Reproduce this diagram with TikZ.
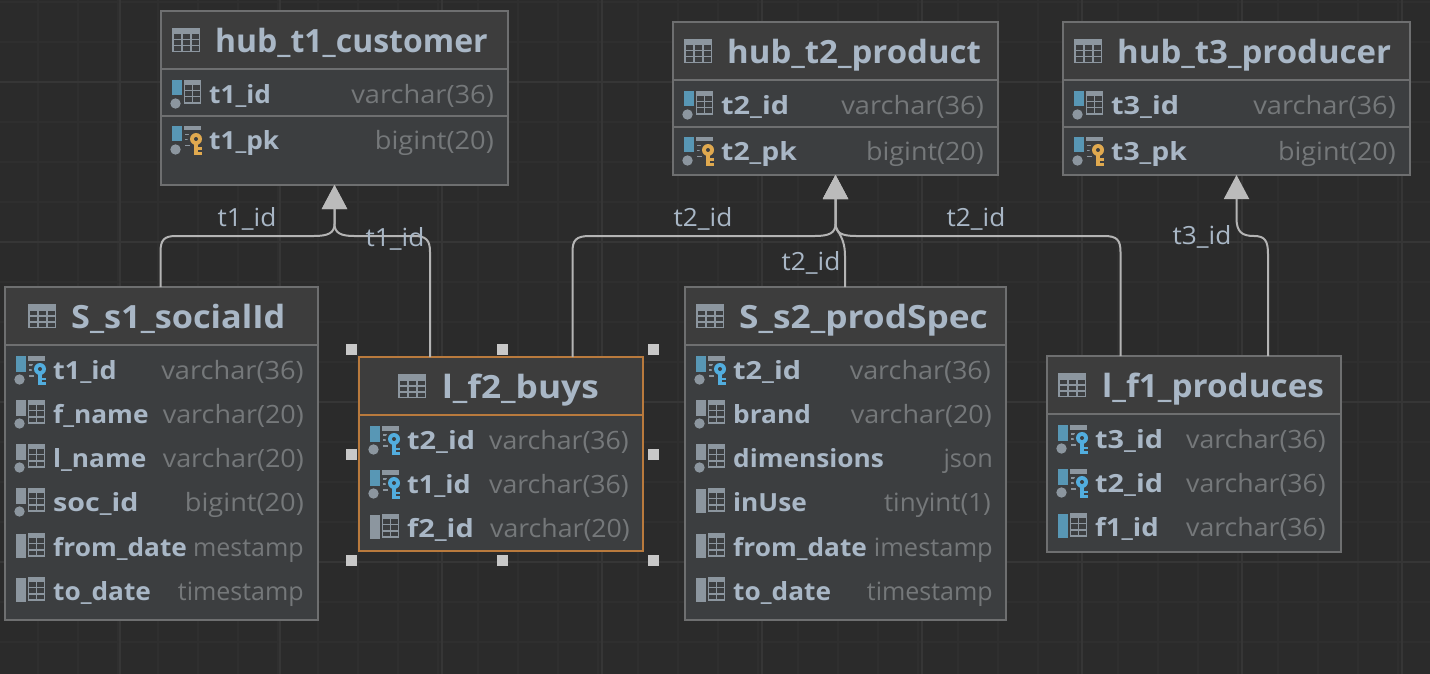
\documentclass[tikz,border=0pt]{standalone}
\usepackage{graphicx}
\usepackage{fontspec}
\setmainfont{Open Sans}
\newfontfamily\typefont[FakeStretch=1.08]{Open Sans}
\newfontfamily\fieldfont[FakeStretch=1.05]{Open Sans}
\newfontfamily\titlefont[FakeStretch=1.03]{Open Sans}
\newfontfamily\labelfont[FakeStretch=1.05]{Open Sans}
\usetikzlibrary{arrows.meta,calc}
\definecolor{bgc}{HTML}{2B2B2B}
\definecolor{gridminor}{HTML}{2F2F2F}
\definecolor{gridmajor}{HTML}{363636}
\definecolor{tfill}{HTML}{3C3E40}
\definecolor{thead}{HTML}{3D3D3D}
\definecolor{tborder}{HTML}{6E6F70}
\definecolor{selb}{HTML}{B97A3D}
\definecolor{txtc}{HTML}{A9B7C6}
\definecolor{typec}{HTML}{75787A}
\definecolor{relc}{HTML}{B4B4B4}
\definecolor{tipc}{HTML}{BBBBBB}
\definecolor{icong}{HTML}{8C969F}
\definecolor{iconb}{HTML}{5897B5}
\definecolor{kgold}{HTML}{E0A94F}
\definecolor{kblue}{HTML}{52ADDE}
\definecolor{handc}{HTML}{C8C8C8}
\tikzset{
  tbl/.style={draw=tborder,fill=tfill,line width=2pt,inner sep=0pt,outer sep=0pt},
  seltbl/.style={tbl,draw=selb},
  sepline/.style={draw=tborder,line width=2pt},
  selsep/.style={draw=selb,line width=2pt},
  titletext/.style={anchor=base west,inner sep=0pt,text=txtc,font=\titlefont\fontsize{32}{32}\selectfont\bfseries},
  fieldtext/.style={anchor=base west,inner sep=0pt,text=txtc,font=\fieldfont\fontsize{25}{25}\selectfont\bfseries},
  typetext/.style={anchor=base east,inner sep=0pt,text=typec,font=\typefont\fontsize{25.2}{25.2}\selectfont},
  rellabel/.style={inner sep=0pt,text=txtc,font=\labelfont\fontsize{25}{25}\selectfont},
  rel/.style={draw=relc,line width=2pt,-{Triangle[width=25pt,length=24pt,fill=tipc,color=tipc]}},
  handle/.style={fill=handc,draw=none,minimum width=11pt,minimum height=11pt,inner sep=0pt,outer sep=0pt},
  gminor/.style={draw=gridminor,line width=1.5pt},
  gmajor/.style={draw=gridmajor,line width=2pt},
}
\newcommand{\xs}[2]{\scalebox{#1}[1]{#2}}
\newcount\nn
\newcommand{\tablebox}[7][tbl]{% style, name, x1,y1,x2,y2, sepy
  \pgfmathsetmacro{\cxx}{(#3+#5)/2}\pgfmathsetmacro{\cyy}{(#4+#6)/2}
  \pgfmathsetmacro{\www}{#5-#3}\pgfmathsetmacro{\hhh}{#6-#4}
  \node[#1,minimum width=\www pt,minimum height=\hhh pt] (#2) at (\cxx,\cyy) {};
  \fill[thead] (#3+1,#4+1) rectangle (#5-1,#7);
}
\newcommand{\headicon}[2]{% x,y top left
  \begin{scope}[shift={(#1,#2)}]
  \fill[icong] (0,0) rectangle (28,24);
  \foreach \cx in {1.5,10.5,19.5}{\foreach \cy in {6.5,12.5,18.5}{
    \fill[tfill] (\cx,\cy) rectangle ++(7.5,4.5);}}
  \end{scope}}
\newcommand{\colicon}[5]{% x, cy, barcolor, circle(0/1), key (none or colour)
  \begin{scope}[shift={(#1,#2)}]
  \ifnum#4=1
    \fill[tfill] (3.5,9.5) circle (7.2);
    \fill[icong] (3.5,9.5) circle (5.2);
    \fill[#3] (0,-14) rectangle (10,1.5);
  \else
    \fill[#3] (0,-13) rectangle (10,11);
  \fi
  \def\keyarg{#5}\def\nonearg{none}
  \ifx\keyarg\nonearg
    \fill[icong] (12,-14) rectangle (29,10);
    \foreach \ccx in {13,21}{\foreach \ccy in {-9,-3,3.5}{
      \fill[tfill] (\ccx,\ccy) rectangle ++(6.8,4.8);}}
  \else
    \fill[icong] (12,-14) rectangle (29,-9.5);
    \fill[icong] (13,-6) rectangle (18,-4.5);
    \fill[icong] (13,-1) rectangle (18,0.5);
    \fill[icong] (13,5) rectangle (18,6.5);
    \fill[tfill] (23.5,-1) circle (8);
    \fill[tfill] (20.5,0) rectangle (31,16);
    \fill[#5] (24,-1) circle (6);
    \fill[tfill] (24,-1) circle (2);
    \fill[#5] (22,3) rectangle (25.6,15);
    \fill[#5] (25.6,7.5) rectangle (29.5,10);
    \fill[#5] (25.6,12) rectangle (29.5,15);
  \fi
  \end{scope}}
\newcommand{\rowf}[9]{% iconx,textx,rightx,cy,bar,circle,key,field,type
  \colicon{#1}{#4}{#5}{#6}{#7}
  \global\advance\nn by 1
  \node[fieldtext] (f\the\nn) at (#2,#4+9.5) {#8};
  \node[typetext] (y\the\nn) at (#3,#4+9.5) {#9};
}
\newcommand{\titlef}[4]{% iconx,textx,top,text
  \headicon{#1}{#3+17}
  \global\advance\nn by 1
  \node[titletext] (h\the\nn) at (#2,#3+41.5) {#4};
}
\begin{document}
\begin{tikzpicture}[x=1pt,y=-1pt]
\fill[bgc] (0,0) rectangle (1430,674);
\useasboundingbox (0,0) rectangle (1430,674);
\foreach \g in {-2,38,...,1430}{\draw[gminor] (\g,0) -- (\g,674);}
\foreach \g in {2,42,...,674}{\draw[gminor] (0,\g) -- (1430,\g);}
\foreach \g in {120,280,442,602,762,922,1082,1242,1402}{\draw[gmajor] (\g,0) -- (\g,674);}
\foreach \g in {82,242,402,562}{\draw[gmajor] (0,\g) -- (1430,\g);}

% hub_t1_customer
\tablebox{hubone}{161}{11}{508}{185}{69}
\draw[sepline] (162,69) -- (507,69);
\draw[sepline] (162,116) -- (507,116);
\titlef{172}{215}{11}{\xs{0.97}{hub\_t1\_customer}}
\rowf{172}{209}{494}{94}{iconb}{1}{none}{t1\_id}{varchar(36)}
\rowf{172}{209}{494}{140}{iconb}{1}{kgold}{t1\_pk}{bigint(20)}

% hub_t2_product
\tablebox{hubtwo}{673}{22}{998}{175}{80}
\draw[sepline] (674,80) -- (997,80);
\draw[sepline] (674,127) -- (997,127);
\titlef{684}{727}{22}{hub\_t2\_product}
\rowf{684}{721}{984}{105}{iconb}{1}{none}{\xs{1.1}{t2\_id}}{varchar(36)}
\rowf{684}{721}{984}{151}{iconb}{1}{kgold}{\xs{1.08}{t2\_pk}}{\xs{0.99}{bigint(20)}}

% hub_t3_producer
\tablebox{hubthree}{1063}{22}{1410}{175}{80}
\draw[sepline] (1064,80) -- (1409,80);
\draw[sepline] (1064,127) -- (1409,127);
\titlef{1074}{1117}{22}{hub\_t3\_producer}
\rowf{1074}{1111}{1396}{105}{iconb}{1}{none}{\xs{1.1}{t3\_id}}{varchar(36)}
\rowf{1074}{1111}{1396}{151}{iconb}{1}{kgold}{\xs{1.08}{t3\_pk}}{\xs{0.99}{bigint(20)}}

% S_s1_socialId
\tablebox{sone}{5}{287}{318}{620}{345}
\draw[sepline] (6,345) -- (317,345);
\titlef{28}{71}{287}{\xs{1.04}{S\_s1\_socialId}}
\rowf{16}{53}{304}{370}{iconb}{1}{kblue}{\xs{1.03}{t1\_id}}{varchar(36)}
\rowf{16}{53}{304}{414}{icong}{1}{none}{f\_name}{\xs{0.99}{varchar(20)}}
\rowf{16}{53}{304}{458}{icong}{1}{none}{l\_name}{\xs{0.99}{varchar(20)}}
\rowf{16}{53}{304}{502}{icong}{1}{none}{\xs{1.09}{soc\_id}}{bigint(20)}
\rowf{16}{53}{304}{547}{icong}{0}{none}{from\_date}{\xs{0.92}{mestamp}}
\rowf{16}{53}{304}{591}{icong}{0}{none}{to\_date}{\xs{0.92}{timestamp}}

% l_f2_buys
\tablebox[seltbl]{buys}{359}{357}{643}{551}{415}
\draw[selsep] (360,415) -- (642,415);
\titlef{398}{442}{357}{\xs{1.07}{l\_f2\_buys}}
\rowf{370}{407}{629}{440}{iconb}{1}{kblue}{\xs{1.1}{t2\_id}}{\xs{0.98}{varchar(36)}}
\rowf{370}{407}{629}{484}{iconb}{1}{kblue}{\xs{1.03}{t1\_id}}{\xs{0.98}{varchar(36)}}
\rowf{370}{407}{630}{528}{icong}{0}{none}{\xs{1.1}{f2\_id}}{\xs{0.98}{varchar(20)}}

% S_s2_prodSpec
\tablebox{stwo}{685}{287}{1006}{620}{345}
\draw[sepline] (686,345) -- (1005,345);
\titlef{696}{739}{287}{\xs{1.07}{S\_s2\_prodSpec}}
\rowf{696}{733}{991}{370}{iconb}{1}{kblue}{\xs{1.1}{t2\_id}}{\xs{0.99}{varchar(36)}}
\rowf{696}{733}{992}{414}{icong}{1}{none}{brand}{\xs{0.99}{varchar(20)}}
\rowf{696}{733}{993}{458}{icong}{1}{none}{dimensions}{\xs{0.93}{json}}
\rowf{696}{733}{991}{502}{icong}{0}{none}{inUse}{\xs{0.955}{tinyint(1)}}
\rowf{696}{733}{993}{547}{icong}{0}{none}{from\_date}{\xs{0.935}{imestamp}}
\rowf{696}{733}{993}{591}{icong}{0}{none}{to\_date}{\xs{0.92}{timestamp}}

% l_f1_produces
\tablebox{fone}{1047}{356}{1341}{552}{414}
\draw[sepline] (1048,414) -- (1340,414);
\titlef{1058}{1102}{356}{\xs{1.01}{l\_f1\_produces}}
\rowf{1058}{1095}{1326}{439}{iconb}{1}{kblue}{\xs{1.1}{t3\_id}}{\xs{0.98}{varchar(36)}}
\rowf{1058}{1095}{1326}{483}{iconb}{1}{kblue}{\xs{1.1}{t2\_id}}{\xs{0.98}{varchar(36)}}
\rowf{1058}{1095}{1326}{527}{iconb}{0}{none}{\xs{1.05}{f1\_id}}{\xs{0.98}{varchar(36)}}

% selection handles
\foreach \hn/\hx/\hy in {a/351/349,b/502/349,c/653/349,d/351/454,e/653/454,f/351/560,g/502/560,j/653/560}{
  \node[handle] (hd\hn) at (\hx,\hy) {};}

% connectors
\draw[rel] ([xshift=155.5pt]sone.north west) -- (160.5,252) .. controls (160.5,240) and (164,236) .. (176,236) -- (314,236) .. controls (328,236) and (334.5,233) .. (334.5,224) -- (hubone.south);
\draw[rel] ([xshift=71pt]buys.north west) -- (430,252) .. controls (430,240) and (426,236) .. (414,236) -- (354,236) .. controls (341,236) and (334.5,233) .. (334.5,224) -- (hubone.south);
\draw[rel] ([xshift=213.5pt]buys.north west) -- (572.5,252) .. controls (572.5,240) and (576,236) .. (590,236) -- (815,236) .. controls (829,236) and (835.5,233) .. (835.5,224) -- (hubtwo.south);
\draw[rel] ([xshift=160pt]stwo.north west) -- (845,256) .. controls (845,244) and (842,238) .. (838,231) .. controls (836.5,229) and (835.5,227) .. (835.5,222) -- (hubtwo.south);
\draw[rel] ([xshift=73.5pt]fone.north west) -- (1120.5,252) .. controls (1120.5,240) and (1117,236) .. (1104,236) -- (856,236) .. controls (842,236) and (835.5,233) .. (835.5,224) -- (hubtwo.south);
\draw[rel] ([xshift=221pt]fone.north west) -- (1268,254) .. controls (1268,241) and (1265,236) .. (1254,236) .. controls (1242,236) and (1236.5,232) .. (1236.5,218) -- (hubthree.south);

% connector labels
\node[rellabel] (la) at (247,219) {t1\_id};
\node[rellabel] (lb) at (395,239) {t1\_id};
\node[rellabel] (lc) at (703,219) {t2\_id};
\node[rellabel] (ld) at (976,219) {t2\_id};
\node[rellabel] (le) at (811,263) {t2\_id};
\node[rellabel] (lf) at (1202,237) {t3\_id};
\end{tikzpicture}
\end{document}
